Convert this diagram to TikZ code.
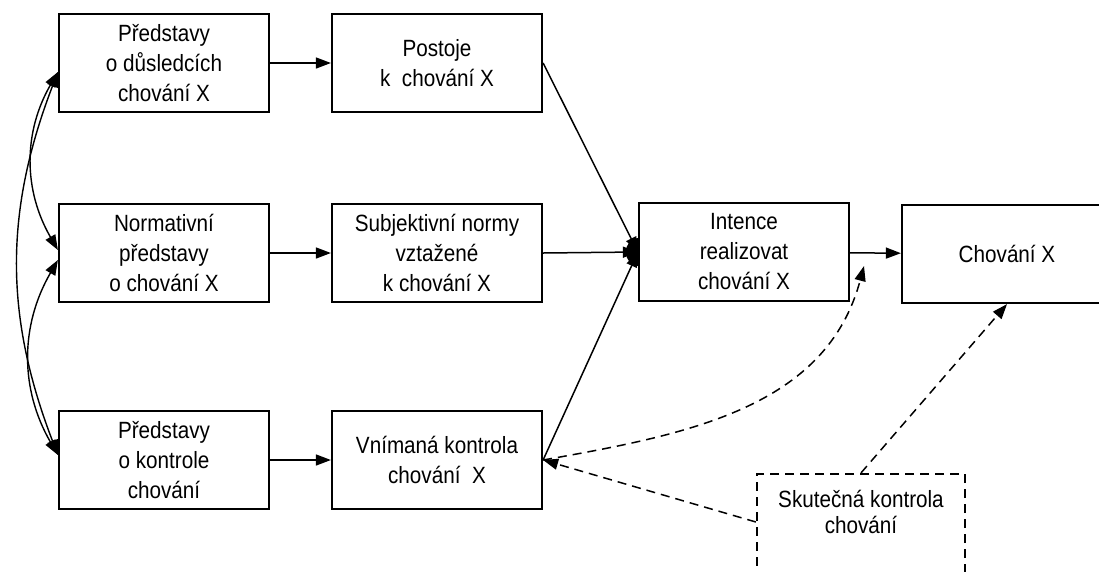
\documentclass[tikz,border=0pt]{standalone}
\usepackage{fontspec}
\setmainfont{Liberation Sans}[FakeStretch=0.88]
\usetikzlibrary{arrows.meta,calc}

\begin{document}
\begin{tikzpicture}[x=1pt,y=1pt,
	box/.style={draw,line width=2.2pt,minimum width=210pt,minimum height=98pt,align=center,
		font=\fontsize{23.5}{30}\selectfont},
	link/.style={line width=1.5pt,-{Triangle[length=15pt,width=11pt]}},
	dlink/.style={link,dash pattern=on 9pt off 6pt},
	both/.style={line width=1.4pt,{Triangle[length=15pt,width=11pt]}-{Triangle[length=15pt,width=11pt]}}]
\useasboundingbox (0,0) rectangle (1099,-571);
\clip (0,0) rectangle (1099,-571);
% first column
\node[box] (dusledky) at (164,-63) {Představy\\o důsledcích\\chování X};
\node[box] (normativni) at (164,-253) {Normativní\\představy\\o chování X};
\node[box] (kontrola) at (164,-460) {Představy\\o kontrole\\chování};
% second column
\node[box] (postoje) at (437,-63) {Postoje\\k~ chování X};
\node[box] (normy) at (437,-253) {Subjektivní normy\\vztažené\\k chování X};
\node[box] (vnimana) at (437,-460) {Vnímaná kontrola\\chování~ X};
% intention and behaviour
\node[box] (intence) at (744,-252) {Intence\\realizovat\\chování X};
\node[box] (chovani) at (1007,-254) {Chování X};
\node[box,dash pattern=on 9pt off 6pt,minimum width=208pt,minimum height=146pt] (skutecna) at (861,-547) {};
\node[anchor=north,align=center,font=\fontsize{23.5}{26}\selectfont] (skutecnatext) at ([yshift=-14pt]skutecna.north) {Skutečná kontrola\\chování};
\coordinate (moder) at (864,-266);

% straight links
\draw[link] (dusledky) -- (postoje);
\draw[link] (normativni) -- (normy);
\draw[link] (kontrola) -- (vnimana);
\draw[link] (postoje.east) -- (intence.west);
\draw[link] (normy.east) -- (intence.west);
\draw[link] (vnimana.east) -- (intence.west);
\draw[link] (intence) -- (chovani);
\fill (intence.west) ++(0,14) arc[start angle=90,end angle=270,x radius=12,y radius=14] -- cycle;

% correlations on the left
\draw[both] ([yshift=-9pt]dusledky.west) to[out=240,in=120] ([yshift=3pt]normativni.west);
\draw[both] ([yshift=-7pt]normativni.west) to[out=240,in=120] ([yshift=5pt]kontrola.west);
\draw[both] ([yshift=-9pt]dusledky.west) to[out=249,in=111] ([yshift=5pt]kontrola.west);

% actual control
\draw[dlink] ([yshift=25pt]skutecna.west) -- (vnimana.east);
\draw[dlink] (skutecna.north) -- (chovani.south);
\draw[dlink] (vnimana.east) to[out=10,in=255] (moder);
\end{tikzpicture}
\end{document}
